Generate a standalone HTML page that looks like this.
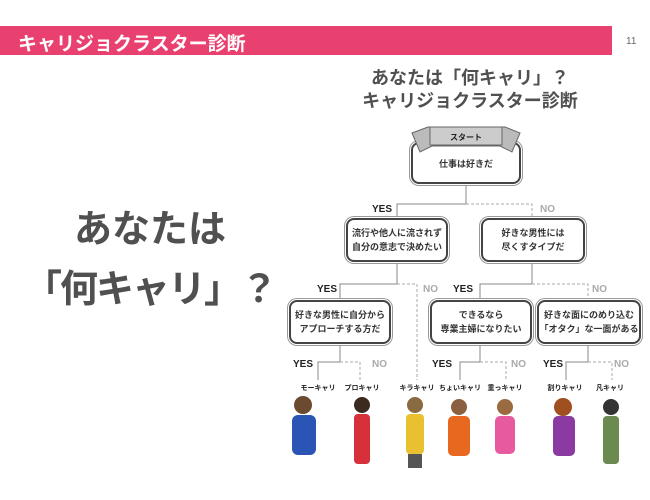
<!DOCTYPE html>
<html><head><meta charset="utf-8"><style>
body{margin:0;width:650px;height:500px;background:#fff;position:relative;overflow:hidden;font-family:"Liberation Sans","Noto Sans CJK JP",sans-serif;}
.bar{position:absolute;left:0;top:26px;width:612px;height:29px;background:#e8416f;}
.bar span{position:absolute;left:18px;top:3px;color:#fff;font-weight:bold;font-size:19px;}
.pg{position:absolute;left:626px;top:36px;font-size:10px;color:#666;}
.big{position:absolute;left:0px;width:300px;text-align:center;font-weight:bold;color:#505050;font-size:38px;white-space:nowrap;}
.t{position:absolute;left:330px;width:280px;text-align:center;font-weight:bold;color:#505050;font-size:18px;line-height:23px;}
.box{position:absolute;border:2px solid #444;border-radius:8px;box-shadow:0 0 0 1px #fff,0 0 0 2px #999;background:#fff;font-size:9px;font-weight:bold;color:#333;display:flex;align-items:center;justify-content:center;text-align:center;line-height:14px;}
.l{position:absolute;font-size:10px;font-weight:bold;}
.y{color:#222}.n{color:#aaa}
.lf{position:absolute;font-size:7px;font-weight:bold;color:#222;transform:translateX(-50%);top:383px;white-space:nowrap;}
</style></head><body>
<div class="bar"><span>キャリジョクラスター診断</span></div>
<div class="pg">11</div>
<div class="big" style="top:198px">あなたは</div>
<div class="big" style="top:258px;letter-spacing:-2px">「何キャリ」？</div>
<div class="t" style="top:67px">あなたは「何キャリ」？<br>キャリジョクラスター診断</div>
<svg style="position:absolute;left:0;top:0" width="650" height="500">
<g fill="none" stroke="#888" stroke-width="1">
<path d="M466 182V204H397V218"/>
<path d="M466 204H532V218" stroke-dasharray="3,2" stroke="#aaa"/>
<path d="M397 262V284H340V300"/>
<path d="M397 284H417V380" stroke-dasharray="3,2" stroke="#aaa"/>
<path d="M532 262V284H480V300"/>
<path d="M532 284H588V300" stroke-dasharray="3,2" stroke="#aaa"/>
<path d="M340 344V362H318V380"/>
<path d="M340 362H360V380" stroke-dasharray="3,2" stroke="#aaa"/>
<path d="M480 344V362H460V380"/>
<path d="M480 362H506V380" stroke-dasharray="3,2" stroke="#aaa"/>
<path d="M588 344V362H566V380"/>
<path d="M588 362H612V380" stroke-dasharray="3,2" stroke="#aaa"/>
</g>
<g stroke="none">
<circle cx="303" cy="405" r="9" fill="#6b4a30"/><rect x="292" y="415" width="24" height="40" fill="#2a55b5" rx="6"/>
<circle cx="362" cy="405" r="8" fill="#3a2a20"/><rect x="354" y="414" width="16" height="50" fill="#d6303a" rx="4"/>
<circle cx="415" cy="405" r="8" fill="#8a6a40"/><rect x="406" y="414" width="18" height="40" fill="#e8c030" rx="4"/><rect x="408" y="454" width="14" height="14" fill="#555"/>
<circle cx="459" cy="407" r="8" fill="#8a6040"/><rect x="448" y="416" width="22" height="40" fill="#e86820" rx="5"/>
<circle cx="505" cy="407" r="8" fill="#9a6a40"/><rect x="495" y="416" width="20" height="38" fill="#e85aa0" rx="5"/>
<circle cx="563" cy="407" r="9" fill="#a05020"/><rect x="553" y="416" width="22" height="40" fill="#8a3aa0" rx="5"/>
<circle cx="611" cy="407" r="8" fill="#333"/><rect x="603" y="416" width="16" height="48" fill="#6a8a50" rx="4"/>
</g>
</svg>
<div class="box" style="left:411px;top:142px;width:106px;height:36px;padding-top:2px">仕事は好きだ</div>
<svg style="position:absolute;left:0;top:0" width="650" height="200">
<polygon points="412,133 428,127 505,127 520,133 512,152 500,146 432,146 420,152" fill="#bbb" stroke="#666"/>
<rect x="430" y="127" width="72" height="18" fill="#ccc" stroke="#666"/>
<text x="466" y="140" font-size="8" font-weight="bold" text-anchor="middle" fill="#222" font-family="Liberation Sans,Noto Sans CJK JP,sans-serif">スタート</text>
</svg>
<div class="box" style="left:346px;top:218px;width:98px;height:40px">流行や他人に流されず<br>自分の意志で決めたい</div>
<div class="box" style="left:481px;top:218px;width:100px;height:40px">好きな男性には<br>尽くすタイプだ</div>
<div class="box" style="left:289px;top:300px;width:98px;height:40px">好きな男性に自分から<br>アプローチする方だ</div>
<div class="box" style="left:430px;top:300px;width:98px;height:40px">できるなら<br>専業主婦になりたい</div>
<div class="box" style="left:537px;top:300px;width:100px;height:40px">好きな面にのめり込む<br>「オタク」な一面がある</div>
<div class="l y" style="left:372px;top:204px">YES</div><div class="l n" style="left:540px;top:204px">NO</div>
<div class="l y" style="left:317px;top:284px">YES</div><div class="l n" style="left:423px;top:284px">NO</div>
<div class="l y" style="left:453px;top:284px">YES</div><div class="l n" style="left:592px;top:284px">NO</div>
<div class="l y" style="left:293px;top:359px">YES</div><div class="l n" style="left:372px;top:359px">NO</div>
<div class="l y" style="left:432px;top:359px">YES</div><div class="l n" style="left:511px;top:359px">NO</div>
<div class="l y" style="left:543px;top:359px">YES</div><div class="l n" style="left:614px;top:359px">NO</div>
<div class="lf" style="left:318px">モーキャリ</div>
<div class="lf" style="left:362px">プロキャリ</div>
<div class="lf" style="left:417px">キラキャリ</div>
<div class="lf" style="left:460px">ちょいキャリ</div>
<div class="lf" style="left:505px">重っキャリ</div>
<div class="lf" style="left:565px">割りキャリ</div>
<div class="lf" style="left:610px">凡キャリ</div>
</body></html>
